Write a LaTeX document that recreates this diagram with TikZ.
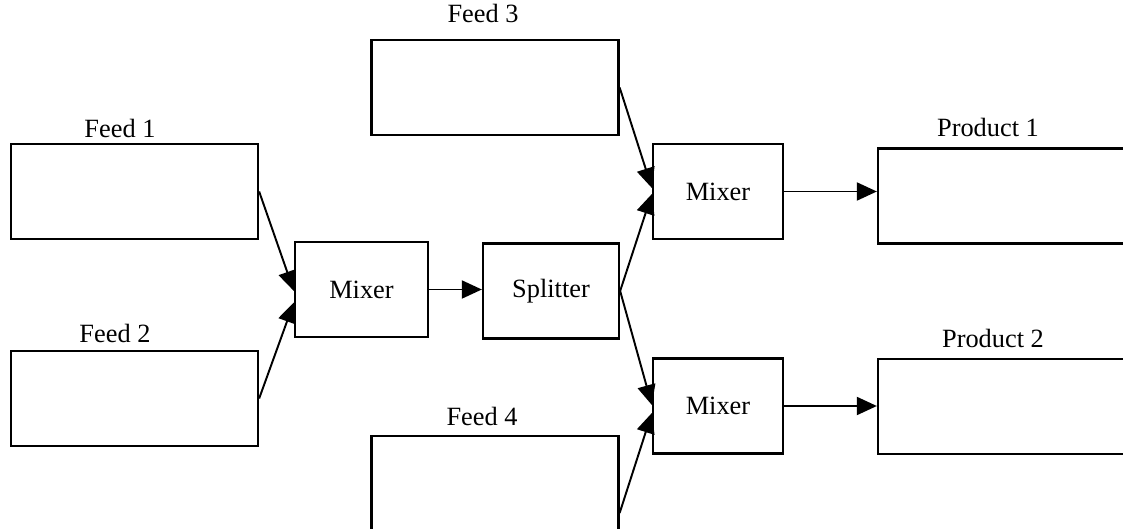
\documentclass[tikz,border=0pt]{standalone}
\usepackage{fontspec}
\setmainfont{Liberation Serif}
\usepackage{tikz}
\usetikzlibrary{arrows.meta,positioning,calc}
\tikzset{
  feedbox/.style={rectangle, draw=black, line width=1.3pt, fill=white,
                  minimum width=4.94cm, minimum height=1.9cm},
  unit/.style={rectangle, draw=black, line width=1.3pt, fill=white,
               font=\fontsize{15}{18}\selectfont, minimum height=1.9cm},
  lbl/.style={font=\fontsize{15}{18}\selectfont, inner sep=0pt},
  arr/.style={-{Triangle[length=0.4cm,width=0.36cm]}, line width=1.1pt, draw=black},
}

\begin{document}
\begin{tikzpicture}
    \path[use as bounding box, clip] (0,0) rectangle (22.46,10.56);
    % feeds
    \node[feedbox] (f1) at (2.69,6.73) {};
    \node[feedbox] (f2) at (2.69,2.59) {};
    \node[feedbox] (f3) at (9.90,8.81) {};
    \node[feedbox, minimum height=3.08cm] (f4) at (9.90,0.30) {};
    \node[lbl] (lf1) at (2.40,8.00)  {Feed 1};
    \node[lbl] (lf2) at (2.30,3.90)  {Feed 2};
    \node[lbl] (lf3) at (9.66,10.30) {Feed 3};
    \node[lbl] (lf4) at (9.64,2.24)  {Feed 4};
    % units
    \node[unit, minimum width=2.66cm] (mx1) at (7.23,4.77)  {Mixer};
    \node[unit, minimum width=2.72cm] (sp)  at (11.02,4.74) {Splitter};
    \node[unit, minimum width=2.60cm] (mx2) at (14.36,6.73) {Mixer};
    \node[unit, minimum width=2.60cm] (mx3) at (14.36,2.44) {Mixer};
    % products
    \node[feedbox] (p1) at (20.03,6.64) {};
    \node[feedbox] (p2) at (20.03,2.43) {};
    \node[lbl] (lp1) at (19.76,8.02) {Product 1};
    \node[lbl] (lp2) at (19.86,3.80) {Product 2};
    % streams
    \draw[arr] (f1.east) -- ($(mx1.west)+(0,-0.03)$);
    \draw[arr] (f2.east) -- ($(mx1.west)+(0,-0.26)$);
    \draw[arr] (mx1.east) -- (mx1.east -| sp.west);
    \draw[arr] (f3.east) -- ($(mx2.west)+(0,0.07)$);
    \draw[arr] (sp.east) -- ($(mx2.west)+(0,-0.05)$);
    \draw[arr] (sp.east) -- ($(mx3.west)+(0,0.02)$);
    \draw[arr] (f4.east) -- ($(mx3.west)+(0,-0.14)$);
    \draw[arr] (mx2.east) -- (mx2.east -| p1.west);
    \draw[arr] (mx3.east) -- (mx3.east -| p2.west);
\end{tikzpicture}
\end{document}
